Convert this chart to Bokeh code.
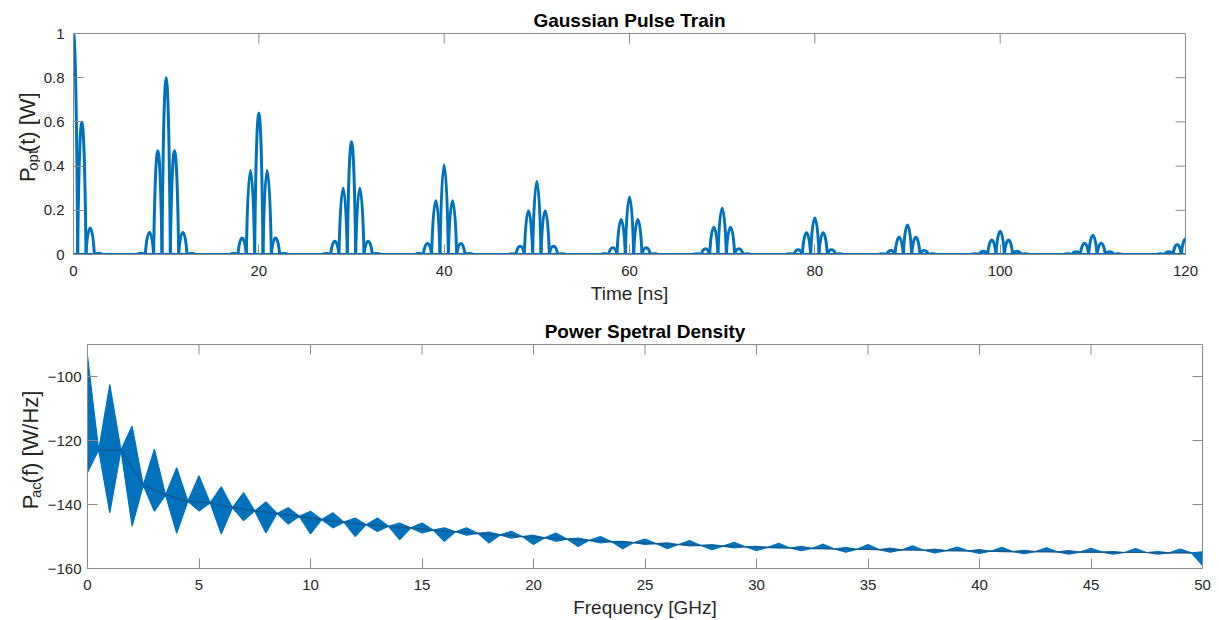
import math
from bokeh.plotting import figure
from bokeh.layouts import column, row
from bokeh.models import Range1d, FixedTicker
from bokeh.core.properties import value
from bokeh.embed import file_html
from bokeh.resources import INLINE

# ---------------- data ----------------
# Top: Gaussian pulse train, one group of sub-pulses every 10 ns
group_times = [0, 10, 20, 30, 40, 50, 60, 70, 80, 90, 100, 110, 120]
center_peak = [1.00, 0.80, 0.64, 0.51, 0.405, 0.33, 0.26, 0.21, 0.165, 0.134, 0.105, 0.086, 0.07]
side_peak   = [0.60, 0.47, 0.38, 0.30, 0.243, 0.198, 0.158, 0.123, 0.098, 0.078, 0.066, 0.051, 0.045]
outer_peak  = [0.12, 0.10, 0.075, 0.06, 0.05, 0.037, 0.03, 0.026, 0.021, 0.018, 0.015, 0.012, 0.012]
tail_peak   = [0.006, 0.006, 0.005, 0.004, 0.004, 0.003, 0.003, 0.003, 0.002, 0.002, 0.002, 0.002, 0.002]
sub_offsets = [-2.7, -1.8, -0.9, 0.0, 0.9, 1.8, 2.7]   # ns, sub-pulse positions in a group
sub_spacing = 0.9                                      # ns

time_ticks = [0, 20, 40, 60, 80, 100, 120]
power_ticks = [0, 0.2, 0.4, 0.6, 0.8, 1]
power_tick_labels = ["0", "0.2", "0.4", "0.6", "0.8", "1"]

# Bottom: power spectral density envelope
psd_freq = list(range(0, 51))
psd_upper = [-93.5, -102.5, -115.5, -122.7, -128.5, -131.0, -134.5, -136.3, -139.2, -141.0,
             -142.1, -142.6, -144.2, -144.2, -145.8, -145.8, -147.3, -147.3, -148.6, -148.4,
             -149.6, -148.9, -150.5, -150.0, -151.5, -150.8, -152.0, -151.3, -152.5, -151.8,
             -153.1, -152.1, -153.1, -152.4, -153.4, -152.5, -153.6, -152.9, -153.9, -153.3,
             -154.1, -153.4, -154.3, -153.5, -154.4, -153.7, -154.7, -153.8, -154.7, -153.9,
             -154.8]
psd_lower = [-130.0, -142.6, -146.8, -142.1, -149.0, -142.0, -149.2, -145.0, -148.9, -146.1,
             -149.2, -147.3, -150.0, -148.4, -151.0, -148.9, -151.5, -149.6, -152.0, -150.5,
             -152.5, -151.5, -153.1, -152.0, -153.8, -152.5, -153.8, -152.9, -154.1, -153.6,
             -154.4, -153.6, -154.4, -153.8, -154.9, -153.9, -154.9, -154.2, -155.1, -154.4,
             -155.3, -154.7, -155.4, -154.7, -155.5, -154.9, -155.5, -155.0, -155.5, -155.0,
             -159.0]
node_freq = [k + 0.5 for k in range(50)]
psd_node = [-123.0, -123.0, -134.0, -137.0, -139.0, -139.5, -141.0, -142.0, -142.8, -143.7,
            -144.7, -145.5, -146.3, -146.8, -147.3, -148.0, -148.5, -149.0, -149.5, -150.0,
            -150.4, -150.8, -151.2, -151.6, -151.9, -152.2, -152.5, -152.8, -153.0, -153.2,
            -153.4, -153.6, -153.7, -153.9, -154.0, -154.1, -154.2, -154.3, -154.4, -154.5,
            -154.6, -154.7, -154.7, -154.8, -154.9, -154.9, -155.0, -155.0, -155.1, -155.1]

freq_ticks = [0, 5, 10, 15, 20, 25, 30, 35, 40, 45, 50]
psd_ticks = [-160, -140, -120, -100]

# ---------------- styling ----------------
FONT = "Liberation Sans"
BLUE = "#0072BD"
AXIS_COL = "#8a8a8a"
TXT_COL = "#262626"
TICK_FS = "15px"
LABEL_FS = "19px"
TICK_LEN = 10


def style_axes(p, xticks, yticks, ylabels, ystand, x_rng, y_rng, fw, fh):
    p.xaxis.ticker = FixedTicker(ticks=xticks)
    p.yaxis.ticker = FixedTicker(ticks=yticks)
    if ylabels:
        p.yaxis.major_label_overrides = {t: l for t, l in zip(yticks, ylabels)}
    for ax in list(p.xaxis) + list(p.yaxis):
        ax.major_tick_in = TICK_LEN
        ax.major_tick_out = 0
        ax.minor_tick_line_color = None
        ax.axis_line_color = AXIS_COL
        ax.major_tick_line_color = AXIS_COL
        ax.major_label_text_font = FONT
        ax.major_label_text_font_size = TICK_FS
        ax.major_label_text_color = TXT_COL
        ax.axis_label_text_font = FONT
        ax.axis_label_text_font_size = LABEL_FS
        ax.axis_label_text_font_style = "normal"
        ax.axis_label_text_color = TXT_COL
    p.xaxis.major_label_standoff = 11
    p.xaxis.axis_label_standoff = 4
    p.yaxis.major_label_standoff = ystand
    # box-style inward ticks on the top and right edges
    dy = TICK_LEN * (y_rng[1] - y_rng[0]) / fh
    dx = TICK_LEN * (x_rng[1] - x_rng[0]) / fw
    p.segment(x0=xticks, x1=xticks, y0=[y_rng[1]] * len(xticks), y1=[y_rng[1] - dy] * len(xticks),
              line_color=AXIS_COL, line_width=1)
    p.segment(x0=[x_rng[1]] * len(yticks), x1=[x_rng[1] - dx] * len(yticks), y0=yticks, y1=yticks,
              line_color=AXIS_COL, line_width=1)
    p.outline_line_color = AXIS_COL
    p.grid.visible = False
    p.title.text_font = FONT
    p.title.text_font_size = LABEL_FS
    p.title.text_font_style = "bold"
    p.title.text_color = "#000000"
    p.title.align = "center"
    p.title.standoff = 6


CHAR_W = {"P": 0.667, "o": 0.556, "p": 0.556, "t": 0.278, "a": 0.556, "c": 0.5}


def label_panel(width, height, base, sub, rest, base_x, sub_x, bottom_y):
    """A narrow strip holding the vertical y-axis title with a subscript.
    The strip uses plain pixel coordinates (y grows upward from its bottom)."""
    lab = figure(width=width, height=height, output_backend="svg", toolbar_location=None,
                 x_range=Range1d(0, width), y_range=Range1d(0, height),
                 min_border=0, min_border_left=0, min_border_right=0,
                 min_border_top=0, min_border_bottom=0)
    lab.title.visible = False
    lab.axis.visible = False
    lab.grid.visible = False
    lab.outline_line_color = None
    big, small = 22, 15
    gap1, gap2 = 1.0, 5.0
    w_base = sum(CHAR_W[c] for c in base) * big
    w_sub = sum(CHAR_W[c] for c in sub) * small
    y0 = height - bottom_y          # distance of the label's lower end from the strip bottom
    pieces = [(base, base_x, y0, big),
              (sub, sub_x, y0 + w_base + gap1, small),
              (rest, base_x, y0 + w_base + gap1 + w_sub + gap2, big)]
    for txt, x, y, fs in pieces:
        lab.text(x=[x], y=[y], text=[txt], angle=math.pi / 2,
                 text_font=value(FONT), text_font_size=f"{fs}px", text_color=TXT_COL,
                 text_align="left", text_baseline="alphabetic")
    return lab


# ---------------- top figure ----------------
FW1, FH1 = 1112, 221
H1 = 305
t_rng = (time_ticks[0], time_ticks[-1])
p_rng = (power_ticks[0], power_ticks[-1])
p1 = figure(frame_width=FW1, frame_height=FH1, output_backend="svg", toolbar_location=None,
            x_range=Range1d(*t_rng), y_range=Range1d(*p_rng),
            title="Gaussian Pulse Train", min_border_left=32, min_border_right=27,
            min_border_top=33, min_border_bottom=51)
p1.xaxis.axis_label = "Time [ns]"

# flat baseline between the pulse groups
p1.line(x=list(t_rng), y=[0, 0], line_color=BLUE, line_width=3)

x0, x1, cx0, cx1, cy, yz = [], [], [], [], [], []
half = sub_spacing / 2.0
ctrl = 0.24
for g, c_amp, s_amp, o_amp, tl_amp in zip(group_times, center_peak, side_peak, outer_peak, tail_peak):
    amps = [tl_amp, o_amp, s_amp, c_amp, s_amp, o_amp, tl_amp]
    for off, a in zip(sub_offsets, amps):
        tc = g + off
        x0.append(tc - half)
        x1.append(tc + half)
        cx0.append(tc - ctrl)
        cx1.append(tc + ctrl)
        cy.append(a * 4.0 / 3.0)
        yz.append(0.0)
p1.bezier(x0=x0, y0=yz, x1=x1, y1=yz, cx0=cx0, cy0=cy, cx1=cx1, cy1=cy,
          line_color=BLUE, line_width=3)

style_axes(p1, time_ticks, power_ticks, power_tick_labels, 9, t_rng, p_rng, FW1, FH1)

lab1 = label_panel(40, H1, "P", "opt", "(t) [W]", base_x=27, sub_x=32, bottom_y=206)

# ---------------- bottom figure ----------------
FW2, FH2 = 1115, 224
H2 = 307
f_rng = (freq_ticks[0], freq_ticks[-1])
d_rng = (psd_ticks[0], -90)
p2 = figure(frame_width=FW2, frame_height=FH2, output_backend="svg", toolbar_location=None,
            x_range=Range1d(*f_rng), y_range=Range1d(*d_rng),
            title="Power Spetral Density", min_border_left=43, min_border_right=9,
            min_border_top=38, min_border_bottom=45)
p2.xaxis.axis_label = "Frequency [GHz]"

env_x, env_lo, env_hi = [], [], []
for i in range(len(psd_freq)):
    env_x.append(psd_freq[i])
    env_lo.append(psd_lower[i])
    env_hi.append(psd_upper[i])
    if i < len(node_freq):
        env_x.append(node_freq[i])
        env_lo.append(psd_node[i])
        env_hi.append(psd_node[i])
p2.varea(x=env_x, y1=env_lo, y2=env_hi, fill_color=BLUE)
p2.line(x=env_x, y=env_hi, line_color=BLUE, line_width=1.2)
p2.line(x=env_x, y=env_lo, line_color=BLUE, line_width=1.2)
p2.line(x=node_freq, y=psd_node, line_color="#1d4f7c", line_width=1.2, line_alpha=0.8)

style_axes(p2, freq_ticks, psd_ticks, None, 6, f_rng, d_rng, FW2, FH2)

lab2 = label_panel(44, H2, "P", "ac", "(f) [W/Hz]", base_x=30, sub_x=35, bottom_y=233)

layout = column(row(lab1, p1), row(lab2, p2))
open("out.html", "w").write(file_html(layout, INLINE))
